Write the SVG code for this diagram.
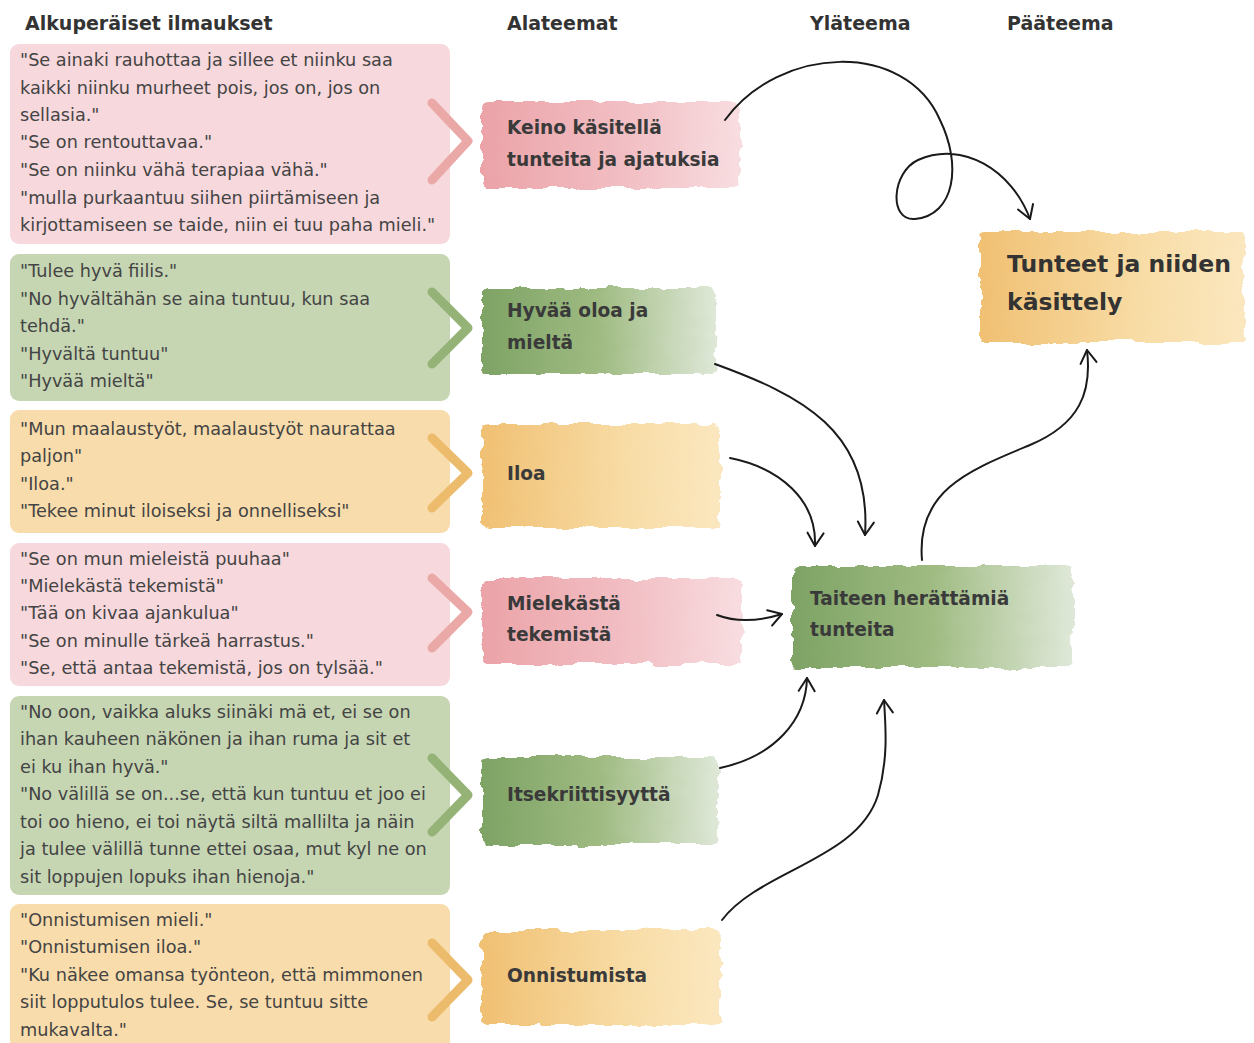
<svg xmlns="http://www.w3.org/2000/svg" width="1254" height="1043" viewBox="0 0 1254 1043">
<style>
.hdr{font-family:"DejaVu Sans","Liberation Sans",sans-serif;font-weight:bold;font-size:19px;fill:#333}
.q{font-family:"DejaVu Sans","Liberation Sans",sans-serif;font-size:17.7px;fill:#444}
.lab{font-family:"DejaVu Sans","Liberation Sans",sans-serif;font-weight:bold;font-size:18.6px;fill:#3a3a3a}
.big{font-family:"DejaVu Sans","Liberation Sans",sans-serif;font-weight:bold;font-size:23.5px;fill:#333}
.pinkbox{fill:#f7d8dc}.greenbox{fill:#c6d6b3}.orangebox{fill:#f9dcab}
.chev{fill:none;stroke-width:9;stroke-linecap:round;stroke-linejoin:round}
.cp{stroke:#eaa8a6}.cg{stroke:#95b377}.co{stroke:#ecbb6c}
.con{fill:none;stroke:#1a1a1a;stroke-width:2;stroke-linecap:round}
</style>
<defs>
<linearGradient id="gPink" x1="0" y1="0" x2="1" y2="0">
<stop offset="0" stop-color="#eba3a8"/><stop offset="0.6" stop-color="#f2c1c6"/><stop offset="1" stop-color="#f8dde0"/>
</linearGradient>
<linearGradient id="gGreen" x1="0" y1="0" x2="1" y2="0">
<stop offset="0" stop-color="#7ea365"/><stop offset="0.5" stop-color="#9fbb82"/><stop offset="1" stop-color="#dfe8d8"/>
</linearGradient>
<linearGradient id="gOrange" x1="0" y1="0" x2="1" y2="0">
<stop offset="0" stop-color="#f0c073"/><stop offset="0.6" stop-color="#f8dca5"/><stop offset="1" stop-color="#fbe7bf"/>
</linearGradient>
<filter id="wc" x="-5%" y="-15%" width="110%" height="130%">
<feTurbulence type="fractalNoise" baseFrequency="0.035 0.08" numOctaves="3" seed="4" result="n"/>
<feDisplacementMap in="SourceGraphic" in2="n" scale="10" xChannelSelector="R" yChannelSelector="G"/>
</filter>
<marker id="arr" viewBox="-16 -10 20 20" markerWidth="20" markerHeight="20" refX="0" refY="0" orient="auto" markerUnits="userSpaceOnUse">
<path d="M-13,-8 L0,0 L-13,8" fill="none" stroke="#1a1a1a" stroke-width="2" stroke-linecap="round" stroke-linejoin="round"/>
</marker>
</defs>
<rect width="1254" height="1043" fill="#ffffff"/>

<g id="headers">
<text class="hdr" x="25" y="30">Alkuperäiset ilmaukset</text>
<text class="hdr" x="507" y="30">Alateemat</text>
<text class="hdr" x="810" y="30">Yläteema</text>
<text class="hdr" x="1007" y="30">Pääteema</text>
</g>

<g id="quote1">
<rect class="pinkbox" x="10" y="44" width="440" height="200" rx="9"/>
<text class="q" x="20" y="66">"Se ainaki rauhottaa ja sillee et niinku saa</text>
<text class="q" x="20" y="94">kaikki niinku murheet pois, jos on, jos on</text>
<text class="q" x="20" y="121">sellasia."</text>
<text class="q" x="20" y="148">"Se on rentouttavaa."</text>
<text class="q" x="20" y="176">"Se on niinku vähä terapiaa vähä."</text>
<text class="q" x="20" y="204">"mulla purkaantuu siihen piirtämiseen ja</text>
<text class="q" x="20" y="231">kirjottamiseen se taide, niin ei tuu paha mieli."</text>
<path class="chev cp" d="M432,103 L468,141 L432,180"/>
</g>
<g id="quote2">
<rect class="greenbox" x="10" y="254" width="440" height="147" rx="9"/>
<text class="q" x="20" y="277">"Tulee hyvä fiilis."</text>
<text class="q" x="20" y="305">"No hyvältähän se aina tuntuu, kun saa</text>
<text class="q" x="20" y="332">tehdä."</text>
<text class="q" x="20" y="360">"Hyvältä tuntuu"</text>
<text class="q" x="20" y="387">"Hyvää mieltä"</text>
<path class="chev cg" d="M432,292 L468,328 L432,364"/>
</g>
<g id="quote3">
<rect class="orangebox" x="10" y="410" width="440" height="123" rx="9"/>
<text class="q" x="20" y="435">"Mun maalaustyöt, maalaustyöt naurattaa</text>
<text class="q" x="20" y="462">paljon"</text>
<text class="q" x="20" y="490">"Iloa."</text>
<text class="q" x="20" y="517">"Tekee minut iloiseksi ja onnelliseksi"</text>
<path class="chev co" d="M432,438 L468,473 L432,508"/>
</g>
<g id="quote4">
<rect class="pinkbox" x="10" y="543" width="440" height="143" rx="9"/>
<text class="q" x="20" y="565">"Se on mun mieleistä puuhaa"</text>
<text class="q" x="20" y="592">"Mielekästä tekemistä"</text>
<text class="q" x="20" y="619">"Tää on kivaa ajankulua"</text>
<text class="q" x="20" y="647">"Se on minulle tärkeä harrastus."</text>
<text class="q" x="20" y="674">"Se, että antaa tekemistä, jos on tylsää."</text>
<path class="chev cp" d="M432,578 L468,612 L432,648"/>
</g>
<g id="quote5">
<rect class="greenbox" x="10" y="696" width="440" height="199" rx="9"/>
<text class="q" x="20" y="718">"No oon, vaikka aluks siinäki mä et, ei se on</text>
<text class="q" x="20" y="745">ihan kauheen näkönen ja ihan ruma ja sit et</text>
<text class="q" x="20" y="773">ei ku ihan hyvä."</text>
<text class="q" x="20" y="800">"No välillä se on...se, että kun tuntuu et joo ei</text>
<text class="q" x="20" y="828">toi oo hieno, ei toi näytä siltä mallilta ja näin</text>
<text class="q" x="20" y="855">ja tulee välillä tunne ettei osaa, mut kyl ne on</text>
<text class="q" x="20" y="883">sit loppujen lopuks ihan hienoja."</text>
<path class="chev cg" d="M432,758 L468,795 L432,832"/>
</g>
<g id="quote6">
<rect class="orangebox" x="10" y="904" width="440" height="150" rx="9"/>
<text class="q" x="20" y="926">"Onnistumisen mieli."</text>
<text class="q" x="20" y="953">"Onnistumisen iloa."</text>
<text class="q" x="20" y="981">"Ku näkee omansa työnteon, että mimmonen</text>
<text class="q" x="20" y="1008">siit lopputulos tulee. Se, se tuntuu sitte</text>
<text class="q" x="20" y="1036">mukavalta."</text>
<path class="chev co" d="M432,943 L468,980 L432,1017"/>
</g>

<g id="sub1">
<rect x="482" y="102" width="258" height="86" rx="6" fill="url(#gPink)" filter="url(#wc)"/>
<text class="lab" x="507" y="134">Keino käsitellä</text>
<text class="lab" x="507" y="166">tunteita ja ajatuksia</text>
</g>
<g id="sub2">
<rect x="482" y="288" width="234" height="86" rx="6" fill="url(#gGreen)" filter="url(#wc)"/>
<text class="lab" x="507" y="317">Hyvää oloa ja</text>
<text class="lab" x="507" y="349">mieltä</text>
</g>
<g id="sub3">
<rect x="482" y="424" width="238" height="104" rx="6" fill="url(#gOrange)" filter="url(#wc)"/>
<text class="lab" x="507" y="480">Iloa</text>
</g>
<g id="sub4">
<rect x="482" y="578" width="260" height="86" rx="6" fill="url(#gPink)" filter="url(#wc)"/>
<text class="lab" x="507" y="610">Mielekästä</text>
<text class="lab" x="507" y="641">tekemistä</text>
</g>
<g id="sub5">
<rect x="482" y="757" width="236" height="88" rx="6" fill="url(#gGreen)" filter="url(#wc)"/>
<text class="lab" x="507" y="801">Itsekriittisyyttä</text>
</g>
<g id="sub6">
<rect x="482" y="930" width="238" height="95" rx="6" fill="url(#gOrange)" filter="url(#wc)"/>
<text class="lab" x="507" y="982">Onnistumista</text>
</g>

<g id="upper">
<rect x="792" y="566" width="280" height="102" rx="6" fill="url(#gGreen)" filter="url(#wc)"/>
<text class="lab" x="810" y="605">Taiteen herättämiä</text>
<text class="lab" x="810" y="636">tunteita</text>
</g>

<g id="main">
<rect x="980" y="232" width="264" height="110" rx="6" fill="url(#gOrange)" filter="url(#wc)"/>
<text class="big" x="1007" y="272">Tunteet ja niiden</text>
<text class="big" x="1007" y="310">käsittely</text>
</g>

<g id="connectors">
<path class="con" marker-end="url(#arr)" d="M725,120 C780,45 905,40 940,120 C962,165 955,215 915,219 C888,221 892,172 918,160 C962,140 1012,170 1030,219"/>
<path class="con" marker-end="url(#arr)" d="M715,364 C800,395 872,430 865,535"/>
<path class="con" marker-end="url(#arr)" d="M730,458 C780,468 817,500 815,546"/>
<path class="con" marker-end="url(#arr)" d="M717,615 C738,623 760,621 782,614"/>
<path class="con" marker-end="url(#arr)" d="M720,768 C775,756 806,720 807,678"/>
<path class="con" marker-end="url(#arr)" d="M722,920 C760,870 858,860 878,795 C888,760 886,730 884,700"/>
<path class="con" marker-end="url(#arr)" d="M922,560 C916,490 970,470 1030,445 C1080,424 1092,392 1087,350"/>
</g>
</svg>
